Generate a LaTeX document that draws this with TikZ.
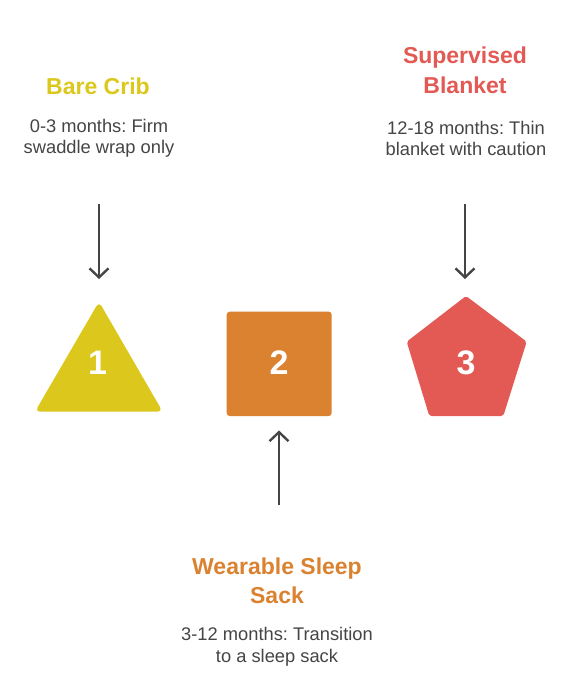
\documentclass[tikz,border=0pt]{standalone}
\usepackage{fontspec}
\setmainfont{Liberation Sans}
\usetikzlibrary{arrows.meta}
\definecolor{cyel}{HTML}{DCC81C}
\definecolor{cora}{HTML}{DB8230}
\definecolor{cred}{HTML}{E35A55}
\definecolor{cgray}{HTML}{454545}
\begin{document}
\frenchspacing
\begin{tikzpicture}[x=1pt,y=-1pt,
  title/.style={font=\bfseries\fontsize{23}{29.5}\selectfont, align=center},
  body/.style={font=\fontsize{18.3}{21.5}\selectfont, text=cgray, align=center},
  num/.style={font=\bfseries\fontsize{34}{36}\selectfont, text=white},
  conn/.style={draw=cgray, line width=2.4pt, -{Straight Barb[length=9pt,width=19pt,line width=2.4pt]}}]
\useasboundingbox[fill=white] (0,0) rectangle (577,691);
% shapes
\fill[cyel, rounded corners=5pt] (99,301.7) -- (162.7,411.7) -- (35,411.7) -- cycle;
\fill[cora, rounded corners=3pt] (226.7,311.7) rectangle (331.7,416);
\fill[cred, rounded corners=2pt] (466,296) -- (526.7,341.7) -- (503.3,416) -- (429.3,416) -- (406.7,341.7) -- cycle;
\node[num] (n1) at (97.5,363) {1};
\node[num] (n2) at (279,363) {2};
\node[num] (n3) at (466,363) {3};
% texts
\node[title, text=cyel] (t1) at (98,86) {Bare Crib};
\node[title, text=cred] (t3) at (465,70.5) {Supervised\\Blanket};
\node[title, text=cora] (t2) at (277,581) {Wearable Sleep\\Sack};
\node[body] (b1) at (99,138.5) {0-3 months: Firm\\swaddle wrap only};
\node[body] (b3) at (466,138.5) {12-18 months: Thin\\blanket with caution};
\node[body] (b2) at (277,647) {3-12 months: Transition\\to a sleep sack};
% connectors
\coordinate (a1s) at (99,204); \coordinate (a1e) at (99,279);
\coordinate (a3s) at (465,204); \coordinate (a3e) at (465,279);
\coordinate (a2s) at (279,505); \coordinate (a2e) at (279,430.5);
\draw[conn] (a1s) -- (a1e);
\draw[conn] (a3s) -- (a3e);
\draw[conn] (a2s) -- (a2e);
\end{tikzpicture}
\end{document}
